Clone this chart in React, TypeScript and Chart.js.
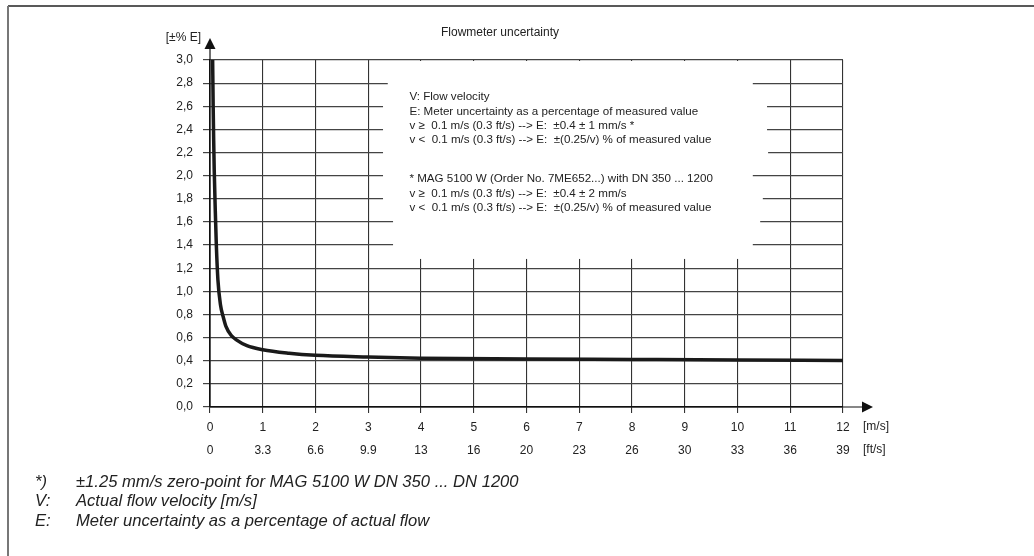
import React, { useEffect, useRef } from 'react';
import { Chart, registerables } from 'chart.js';

Chart.register(...registerables);

// Flow velocity [m/s] and uncertainty [±% E]
const velocity = [0.05, 0.06, 0.07, 0.08, 0.1, 0.12, 0.15, 0.2, 0.25, 0.3, 0.4, 0.5, 0.7, 1, 1.5, 2, 3, 4, 6, 8, 10, 12];
const uncertainty = [3.0, 2.6, 2.3, 2.05, 1.7, 1.4, 1.1, 0.88, 0.78, 0.7, 0.62, 0.58, 0.53, 0.495, 0.465, 0.447, 0.432, 0.422, 0.416, 0.411, 0.406, 0.402];

const velocityTicks = ['0', '1', '2', '3', '4', '5', '6', '7', '8', '9', '10', '11', '12'];
const feetTicks = ['0', '3.3', '6.6', '9.9', '13', '16', '20', '23', '26', '30', '33', '36', '39'];

const chartTitle = 'Flowmeter uncertainty';
const yAxisTitle = '[±% E]';
const xUnitLabels = ['[m/s]', '[ft/s]'];

const infoBlock1 = [
  'V: Flow velocity',
  'E: Meter uncertainty as a percentage of measured value',
  'v ≥  0.1 m/s (0.3 ft/s) --> E:  ±0.4 ± 1 mm/s *',
  'v <  0.1 m/s (0.3 ft/s) --> E:  ±(0.25/v) % of measured value',
];
const infoBlock2 = [
  '* MAG 5100 W (Order No. 7ME652...) with DN 350 ... 1200',
  'v ≥  0.1 m/s (0.3 ft/s) --> E:  ±0.4 ± 2 mm/s',
  'v <  0.1 m/s (0.3 ft/s) --> E:  ±(0.25/v) % of measured value',
];

const footnoteKeys = ['*)', 'V:', 'E:'];
const footnoteTexts = [
  '±1.25 mm/s zero-point for MAG 5100 W DN 350 ... DN 1200',
  'Actual flow velocity [m/s]',
  'Meter uncertainty as a percentage of actual flow',
];

const FONT = "'Liberation Sans', Arial, Helvetica, sans-serif";

const overlayPlugin = {
  id: 'overlay',
  beforeDatasetsDraw(chart: any) {
    const { ctx, scales } = chart;
    const x = scales.x;
    const y = scales.y;
    ctx.save();
    ctx.fillStyle = '#ffffff';
    // blank area behind the explanatory text
    const L = x.getPixelForValue(3.5);
    const R = x.getPixelForValue(10.25);
    const T = y.getPixelForValue(3.0) + 1;
    const B = y.getPixelForValue(1.28);
    ctx.fillRect(L, T, R - L, B - T);
    // ragged gaps in horizontal grid lines
    const gaps: [number, number, number][] = [
      [2.8, 3.37, 10.29],
      [2.6, 3.28, 10.56],
      [2.4, 3.28, 10.56],
      [2.2, 3.28, 10.58],
      [2.0, 3.28, 10.29],
      [1.8, 3.28, 10.48],
      [1.6, 3.47, 10.43],
      [1.4, 3.47, 10.29],
    ];
    gaps.forEach(([v, l, r]) => {
      const py = y.getPixelForValue(v);
      const pl = x.getPixelForValue(l);
      const pr = x.getPixelForValue(r);
      ctx.fillRect(pl, py - 2, pr - pl, 4);
    });
    ctx.restore();
  },
  afterDraw(chart: any) {
    const { ctx, chartArea, scales } = chart;
    const x = scales.x;
    const y = scales.y;
    const x0 = x.getPixelForValue(0);
    const y0 = y.getPixelForValue(0);
    ctx.save();

    // frame
    ctx.strokeStyle = '#222';
    ctx.lineWidth = 1.5;
    ctx.beginPath();
    ctx.moveTo(8, 6);
    ctx.lineTo(1034, 6);
    ctx.stroke();
    ctx.strokeStyle = '#777';
    ctx.lineWidth = 2;
    ctx.beginPath();
    ctx.moveTo(8, 6);
    ctx.lineTo(8, 556);
    ctx.stroke();

    // axes with arrows
    ctx.strokeStyle = '#111';
    ctx.fillStyle = '#111';
    ctx.lineWidth = 1.2;
    ctx.beginPath();
    ctx.moveTo(x0, y0);
    ctx.lineTo(x0, chartArea.top - 12);
    ctx.moveTo(x0, y0);
    ctx.lineTo(chartArea.right + 20, y0);
    ctx.stroke();
    ctx.beginPath();
    ctx.moveTo(x0, chartArea.top - 22);
    ctx.lineTo(x0 - 5.5, chartArea.top - 11);
    ctx.lineTo(x0 + 5.5, chartArea.top - 11);
    ctx.closePath();
    ctx.fill();
    ctx.beginPath();
    ctx.moveTo(chartArea.right + 30, y0);
    ctx.lineTo(chartArea.right + 19, y0 - 5.5);
    ctx.lineTo(chartArea.right + 19, y0 + 5.5);
    ctx.closePath();
    ctx.fill();

    // titles
    ctx.fillStyle = '#222';
    ctx.font = `12px ${FONT}`;
    ctx.textBaseline = 'middle';
    ctx.textAlign = 'left';
    ctx.fillText(chartTitle, 441, 33);
    ctx.textAlign = 'right';
    ctx.fillText(yAxisTitle, x0 - 9, 38);
    ctx.textAlign = 'left';
    ctx.fillText(xUnitLabels[0], chartArea.right + 20, 427);
    ctx.fillText(xUnitLabels[1], chartArea.right + 20, 450);

    // explanatory text
    ctx.font = `11.6px ${FONT}`;
    const tx = x.getPixelForValue(3.78);
    infoBlock1.forEach((line, i) => ctx.fillText(line, tx, 97 + i * 14.3));
    infoBlock2.forEach((line, i) => ctx.fillText(line, tx, 179 + i * 14.3));

    // footnotes
    ctx.font = `italic 16.6px ${FONT}`;
    footnoteKeys.forEach((k, i) => {
      const ly = 482 + i * 19.5;
      ctx.fillText(k, 35, ly);
      ctx.fillText(footnoteTexts[i], 76, ly);
    });
    ctx.restore();
  },
};

export default function App() {
  const ref = useRef<HTMLCanvasElement | null>(null);
  useEffect(() => {
    if (!ref.current) return;
    const chart = new Chart(ref.current, {
      type: 'line',
      data: {
        datasets: [
          {
            data: velocity.map((v, i) => ({ x: v, y: uncertainty[i] })),
            borderColor: '#1a1a1a',
            borderWidth: 3.5,
            pointRadius: 0,
            cubicInterpolationMode: 'monotone',
            fill: false,
          },
        ],
      },
      options: {
        responsive: false,
        animation: false,
        devicePixelRatio: 1,
        layout: { padding: { left: 0, top: 60, right: 191, bottom: 0 } },
        plugins: { legend: { display: false }, tooltip: { enabled: false }, title: { display: false } },
        scales: {
          x: {
            type: 'linear',
            min: 0,
            max: 12,
            afterFit: (s: any) => {
              s.height = 149;
            },
            ticks: {
              stepSize: 1,
              padding: 3,
              color: '#222',
              font: { family: FONT, size: 12, lineHeight: 23 / 12 },
              callback: (v: any) => {
                const i = Math.round(Number(v));
                return [velocityTicks[i], feetTicks[i]];
              },
              maxRotation: 0,
              autoSkip: false,
            },
            grid: { color: '#333', lineWidth: 1.1, tickLength: 6, drawTicks: true },
            border: { display: true, color: '#111', width: 1.2 },
          },
          y: {
            type: 'linear',
            min: 0,
            max: 3,
            afterFit: (s: any) => {
              s.width = 210;
            },
            ticks: {
              stepSize: 0.2,
              padding: 10,
              color: '#222',
              font: { family: FONT, size: 12 },
              callback: (v: any) => Number(v).toFixed(1).replace('.', ','),
            },
            grid: { color: '#444', lineWidth: 1.2, tickLength: 7 },
            border: { display: true, color: '#111', width: 1.2 },
          },
        },
      },
      plugins: [overlayPlugin],
    } as any);
    return () => chart.destroy();
  }, []);
  return (
    <canvas
      ref={ref}
      width={1034}
      height={556}
      style={{ position: 'absolute', left: 0, top: 0, width: 1034, height: 556 }}
    />
  );
}
